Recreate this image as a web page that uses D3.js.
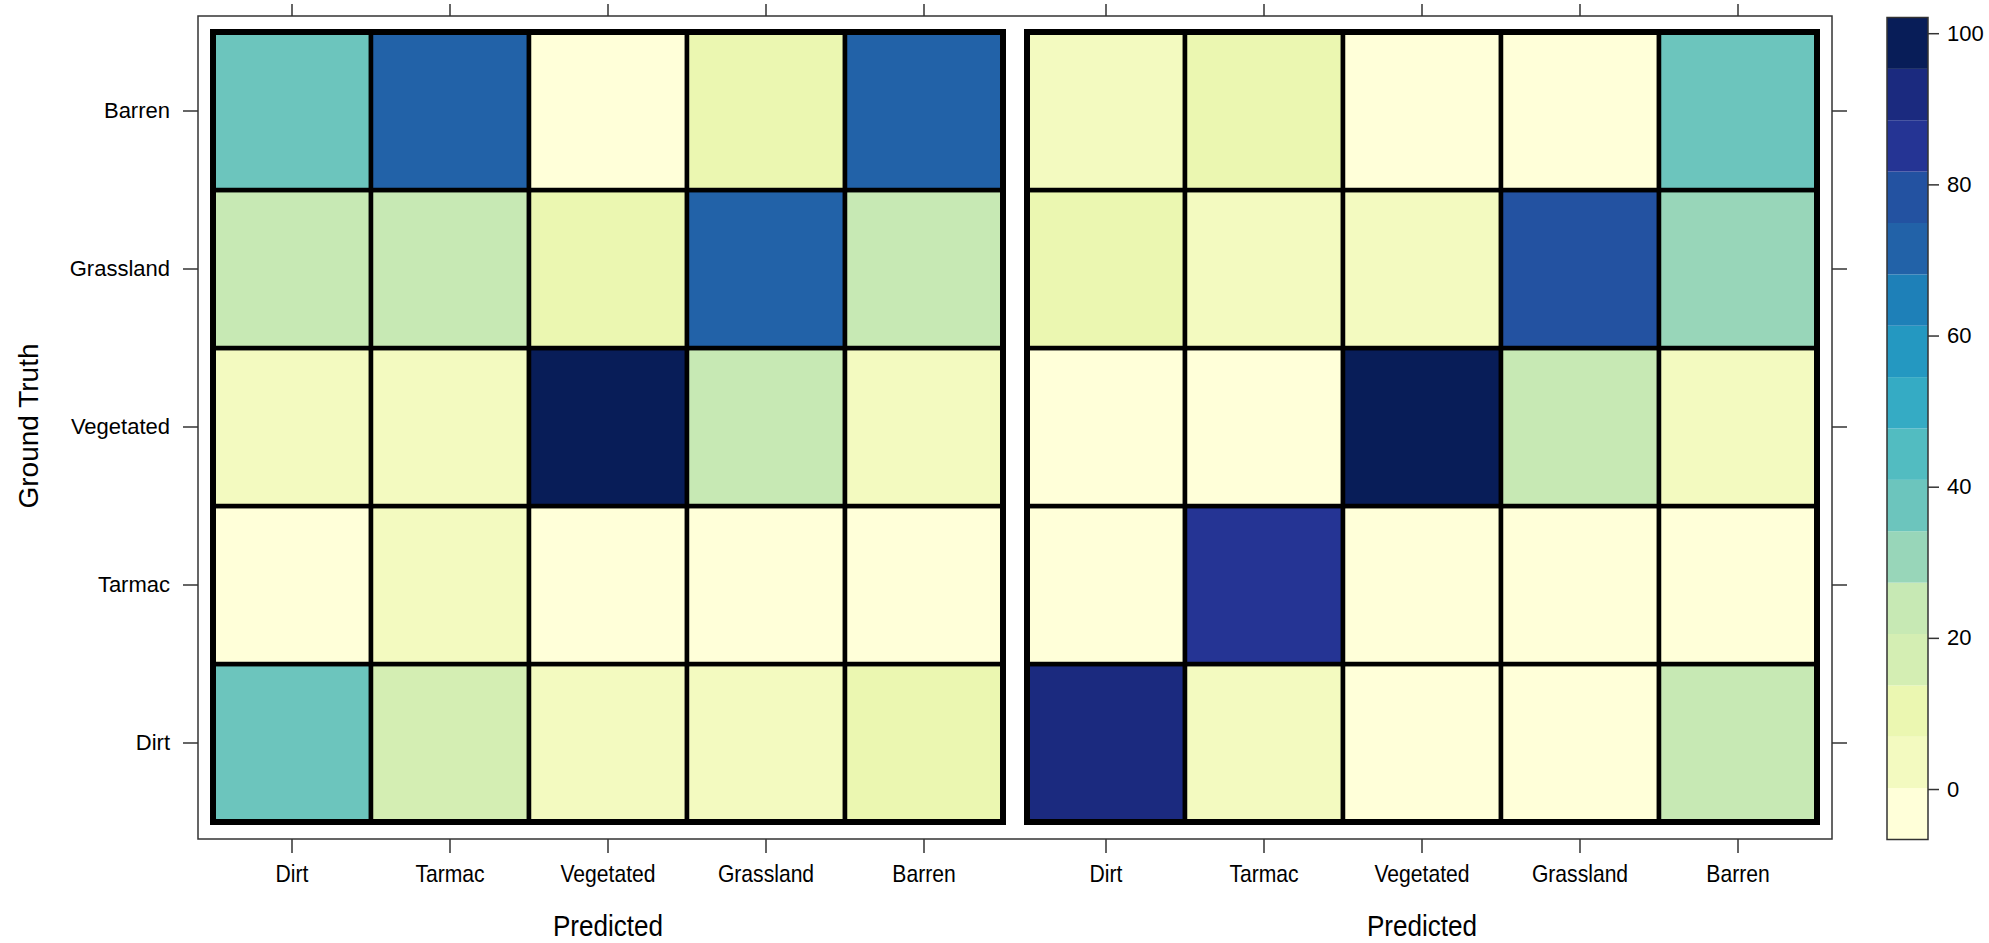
<!DOCTYPE html>
<html>
<head>
<meta charset="utf-8">
<script src="https://cdn.jsdelivr.net/npm/d3@7"></script>
<style>
  body { margin: 0; background: #fff; }
  text { font-family: "Liberation Sans", Arial, sans-serif; fill: #000; }
</style>
</head>
<body>
<div id="grafico"></div>
<script>
// categories (same for both axes)
const clases = ["Dirt", "Tarmac", "Vegetated", "Grassland", "Barren"];

const izqBarren    = [37, 71, 0, 10, 71];
const izqGrassland = [22, 21, 9, 71, 22];
const izqVegetated = [4, 4, 95.4, 22, 4];
const izqTarmac    = [0, 3, 0, 0, 0];
const izqDirt      = [37, 17, 4, 4, 10];

const derBarren    = [4, 10, 0, 0, 37];
const derGrassland = [9, 4, 4, 76, 30];
const derVegetated = [0, 0, 95.4, 22, 5];
const derTarmac    = [0, 85, 0, 0, 0];
const derDirt      = [92, 4, 0, 0, 22];

const ticksClave = [0, 20, 40, 60, 80, 100];
// 16 key colours (YlGnBu), low to high
const colores = ["#ffffd9", "#f3fac0", "#ebf7b1", "#d4eeb3", "#c7e9b4", "#98d6b9", "#6cc5bd", "#52bcc1",
                 "#35abc4", "#2498c1", "#1e80b8", "#2262a8", "#2352a1", "#253494", "#1b2a7f", "#081d58"];

const filasIzq = { Dirt: izqDirt, Tarmac: izqTarmac, Vegetated: izqVegetated, Grassland: izqGrassland, Barren: izqBarren };
const filasDer = { Dirt: derDirt, Tarmac: derTarmac, Vegetated: derVegetated, Grassland: derGrassland, Barren: derBarren };

const ancho = 1989, alto = 943;

// breaks like lattice: data range stretched 7% each side, 16 intervals
const todos = Object.values(filasIzq).concat(Object.values(filasDer)).flat();
const rango = d3.extent(todos);
const extra = (rango[1] - rango[0]) * 0.07;
const lo = rango[0] - extra, hi = rango[1] + extra;
const nCortes = colores.length;
const cortes = d3.range(nCortes + 1).map(i => lo + (hi - lo) * i / nCortes);
const color = d3.scaleThreshold().domain(cortes.slice(1, -1)).range(colores);

const svg = d3.select("#grafico").append("svg")
  .attr("width", ancho).attr("height", alto);

const caja = { x0: 198, x1: 1832, y0: 16, y1: 839 };

const y = d3.scaleBand().domain(clases.slice().reverse()).range([32, 822]);
const paneles = [
  { filas: filasIzq, x: d3.scaleBand().domain(clases).range([213, 1003]) },
  { filas: filasDer, x: d3.scaleBand().domain(clases).range([1027, 1817]) }
];

// outer box
svg.append("rect")
  .attr("x", caja.x0).attr("y", caja.y0)
  .attr("width", caja.x1 - caja.x0).attr("height", caja.y1 - caja.y0)
  .attr("fill", "none").attr("stroke", "#333").attr("stroke-width", 1.5);

paneles.forEach(p => {
  const g = svg.append("g");
  clases.forEach(fila => {
    p.filas[fila].forEach((v, j) => {
      g.append("rect")
        .attr("x", p.x(clases[j])).attr("y", y(fila))
        .attr("width", p.x.bandwidth()).attr("height", y.bandwidth())
        .attr("fill", color(v))
        .attr("stroke", "#000").attr("stroke-width", 4.5);
    });
  });
  const r = p.x.range();
  g.append("rect")
    .attr("x", r[0]).attr("y", y.range()[0])
    .attr("width", r[1] - r[0]).attr("height", y.range()[1] - y.range()[0])
    .attr("fill", "none").attr("stroke", "#000").attr("stroke-width", 6);

  // bottom axis with labels
  const ab = svg.append("g")
    .attr("transform", "translate(0," + caja.y1 + ")")
    .call(d3.axisBottom(p.x).tickSize(14).tickPadding(12));
  ab.select(".domain").remove();
  ab.selectAll("line").attr("stroke", "#333").attr("stroke-width", 1.5);
  ab.selectAll("text").style("font-size", "24px").attr("fill", "#000")
    .attr("transform", "scale(0.88,1)");

  // top axis, ticks only
  const at = svg.append("g")
    .attr("transform", "translate(0," + caja.y0 + ")")
    .call(d3.axisTop(p.x).tickSize(12).tickFormat(""));
  at.select(".domain").remove();
  at.selectAll("line").attr("stroke", "#333").attr("stroke-width", 1.5);

  svg.append("text")
    .attr("transform", "translate(" + (r[0] + r[1]) / 2 + ",936) scale(0.9,1)")
    .attr("text-anchor", "middle")
    .style("font-size", "29px")
    .text("Predicted");
});

const al = svg.append("g")
  .attr("transform", "translate(" + caja.x0 + ",0)")
  .call(d3.axisLeft(y).tickSize(15).tickPadding(13));
al.select(".domain").remove();
al.selectAll("line").attr("stroke", "#333").attr("stroke-width", 1.5);
al.selectAll("text").style("font-size", "22px").attr("fill", "#000");

const ar = svg.append("g")
  .attr("transform", "translate(" + caja.x1 + ",0)")
  .call(d3.axisRight(y).tickSize(15).tickFormat(""));
ar.select(".domain").remove();
ar.selectAll("line").attr("stroke", "#333").attr("stroke-width", 1.5);

svg.append("text")
  .attr("transform", "translate(38," + 426 + ") rotate(-90)")
  .attr("text-anchor", "middle")
  .style("font-size", "28px")
  .text("Ground Truth");

// color key
const yClave = d3.scaleLinear().domain([lo, hi]).range([839.5, 17.5]);
const clave = svg.append("g");
d3.range(nCortes).forEach(i => {
  clave.append("rect")
    .attr("x", 1887).attr("y", yClave(cortes[i + 1]))
    .attr("width", 41).attr("height", yClave(cortes[i]) - yClave(cortes[i + 1]))
    .attr("fill", colores[i]);
});
clave.append("rect")
  .attr("x", 1887).attr("y", yClave(hi))
  .attr("width", 41).attr("height", yClave(lo) - yClave(hi))
  .attr("fill", "none").attr("stroke", "#333").attr("stroke-width", 1.5);
const ac = svg.append("g")
  .attr("transform", "translate(1928,0)")
  .call(d3.axisRight(yClave).tickValues(ticksClave).tickSize(11).tickPadding(8));
ac.select(".domain").remove();
ac.selectAll("line").attr("stroke", "#333").attr("stroke-width", 1.5);
ac.selectAll("text").style("font-size", "22px").attr("fill", "#000");
</script>
</body>
</html>
